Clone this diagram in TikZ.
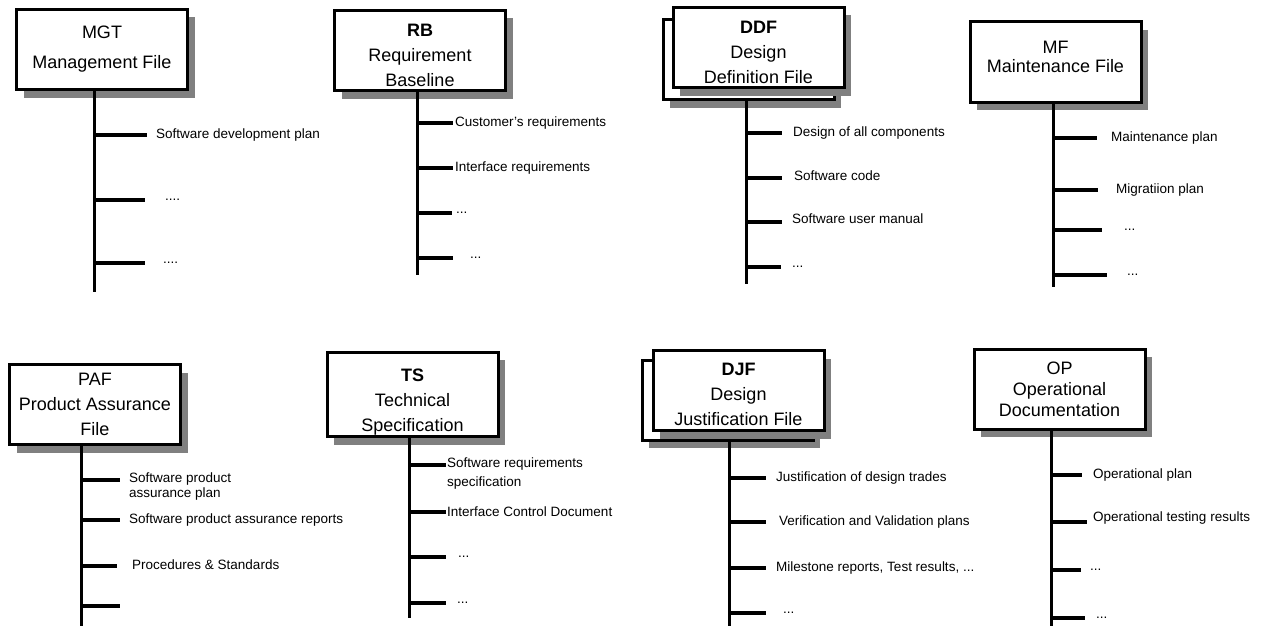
\documentclass[tikz,border=0pt]{standalone}
\usepackage{fontspec}
\setmainfont{Liberation Sans}
\usetikzlibrary{positioning,shadows}
\newcommand{\topgap}[1]{\rule{0pt}{#1}}
\newcommand{\botgap}[1]{\rule[-#1]{0pt}{#1}}

\begin{document}
\begin{tikzpicture}[x=1pt,y=-1pt,doc/.style={rectangle, draw=black, fill=white, line width=3pt, minimum width=171pt, minimum height=80pt, align=center, inner sep=2pt, font=\fontsize{18}{25}\selectfont, drop shadow={shadow xshift=7pt, shadow yshift=-8pt, opacity=1, fill=black!50}},item/.style={inner sep=0pt, align=left, font=\fontsize{13.5}{15}\selectfont},trunk/.style={line width=3pt},branch/.style={line width=3.5pt},]
    \useasboundingbox (0,0) rectangle (1264,626);
    % top row
    \node[doc, font=\fontsize{18}{30}\selectfont] (mgt) at (102,49.5) {MGT\\Management File};
    \coordinate (mgt-end) at (94,292);
    \draw[trunk] (mgt-end |- mgt.south) -- (mgt-end);
    \foreach \y/\e/\g/\s/\l [count=\i] in {135/147/9/0/{Software development plan}, 200/145/20/0/{....}, 263/145/18/0/{....}}
    {
        \coordinate (mgt-b\i) at (\e,\y);
        \draw[branch] (mgt-end |- mgt-b\i) -- (mgt-b\i);
        \node[item, right=\g pt of mgt-b\i, yshift=\s pt] (mgt-l\i) {\l};
    }

    \node[doc] (rb) at (420,50.5) {\topgap{23pt}\textbf{RB}\\Requirement\\Baseline};
    \coordinate (rb-end) at (417,275);
    \draw[trunk] (rb-end |- rb.south) -- (rb-end);
    \foreach \y/\e/\g/\s/\l [count=\i] in {123/453/2/0/{Customer's requirements}, 168/453/2/0/{Interface requirements}, 213/452/4/0/{...}, 258/453/17/0/{...}}
    {
        \coordinate (rb-b\i) at (\e,\y);
        \draw[branch] (rb-end |- rb-b\i) -- (rb-b\i);
        \node[item, right=\g pt of rb-b\i, yshift=\s pt] (rb-l\i) {\l};
    }

    \node[doc] (ddf-back) at (748.5,59.5) {};
    \node[doc] (ddf) at ([xshift=10pt,yshift=12pt]ddf-back.center) {\topgap{23pt}\textbf{DDF}\\Design\\Definition File};
    \coordinate (ddf-end) at (746,284);
    \draw[trunk] (ddf-end |- ddf-back.south) -- (ddf-end);
    \foreach \y/\e/\g/\s/\l [count=\i] in {133/782/11/0/{Design of all components}, 178/782/12/2/{Software code}, 222/782/10/3/{Software user manual}, 267/781/11/0/{...}}
    {
        \coordinate (ddf-b\i) at (\e,\y);
        \draw[branch] (ddf-end |- ddf-b\i) -- (ddf-b\i);
        \node[item, right=\g pt of ddf-b\i, yshift=\s pt] (ddf-l\i) {\l};
    }

    \node[doc, font=\fontsize{18}{19}\selectfont] (mf) at (1055.5,62) {MF\\Maintenance File\botgap{10pt}};
    \coordinate (mf-end) at (1053,287);
    \draw[trunk] (mf-end |- mf.south) -- (mf-end);
    \foreach \y/\e/\g/\s/\l [count=\i] in {138/1097/14/0/{Maintenance plan}, 190/1098/18/0/{Migratiion plan}, 230/1102/22/0/{...}, 275/1107/20/0/{...}}
    {
        \coordinate (mf-b\i) at (\e,\y);
        \draw[branch] (mf-end |- mf-b\i) -- (mf-b\i);
        \node[item, right=\g pt of mf-b\i, yshift=\s pt] (mf-l\i) {\l};
    }

    % bottom row
    \node[doc] (paf) at (95,404.5) {PAF\\Product Assurance\\File};
    \coordinate (paf-end) at (81,626);
    \draw[trunk] (paf-end |- paf.south) -- (paf-end);
    \foreach \y/\e/\g/\s/\l [count=\i] in {480/120/9/-7/{Software product\\assurance plan}, 520/120/9/0/{Software product assurance reports}, 566/117/15/1/{Procedures \& Standards}, 606/120/9/0/{}}
    {
        \coordinate (paf-b\i) at (\e,\y);
        \draw[branch] (paf-end |- paf-b\i) -- (paf-b\i);
        \node[item, right=\g pt of paf-b\i, yshift=\s pt] (paf-l\i) {\l};
    }

    \node[doc] (ts) at (412.5,394.5) {\topgap{27pt}\textbf{TS}\\Technical\\Specification};
    \coordinate (ts-end) at (409,618);
    \draw[trunk] (ts-end |- ts.south) -- (ts-end);
    \foreach \y/\e/\g/\s/\l [count=\i] in {465/446/1/-9/{Software requirements\\[4pt]specification}, 512/446/1/0/{Interface Control Document}, 557/446/12/0/{...}, 603/446/11/0/{...}}
    {
        \coordinate (ts-b\i) at (\e,\y);
        \draw[branch] (ts-end |- ts-b\i) -- (ts-b\i);
        \node[item, right=\g pt of ts-b\i, yshift=\s pt] (ts-l\i) {\l};
    }

    \node[doc] (djf-back) at (727.5,400) {};
    \node[doc] (djf) at ([xshift=11pt,yshift=9.5pt]djf-back.center) {\topgap{21pt}\textbf{DJF}\\Design\\Justification File};
    \coordinate (djf-end) at (729,626);
    \draw[trunk] (djf-end |- djf-back.south) -- (djf-end);
    \foreach \y/\e/\g/\s/\l [count=\i] in {478/766/10/0/{Justification of design trades}, 522/766/13/0/{Verification and Validation plans}, 568/766/10/0/{Milestone reports, Test results, ...}, 613/766/17/0/{...}}
    {
        \coordinate (djf-b\i) at (\e,\y);
        \draw[branch] (djf-end |- djf-b\i) -- (djf-b\i);
        \node[item, right=\g pt of djf-b\i, yshift=\s pt] (djf-l\i) {\l};
    }

    \node[doc, font=\fontsize{18}{21}\selectfont] (op) at (1059.5,389) {OP\\Operational\\Documentation};
    \coordinate (op-end) at (1051,626);
    \draw[trunk] (op-end |- op.south) -- (op-end);
    \foreach \y/\e/\g/\s/\l [count=\i] in {475/1082/11/0/{Operational plan}, 522/1087/6/4/{Operational testing results}, 570/1081/9/0/{...}, 618/1085/11/0/{...}}
    {
        \coordinate (op-b\i) at (\e,\y);
        \draw[branch] (op-end |- op-b\i) -- (op-b\i);
        \node[item, right=\g pt of op-b\i, yshift=\s pt] (op-l\i) {\l};
    }
\end{tikzpicture}
\end{document}
